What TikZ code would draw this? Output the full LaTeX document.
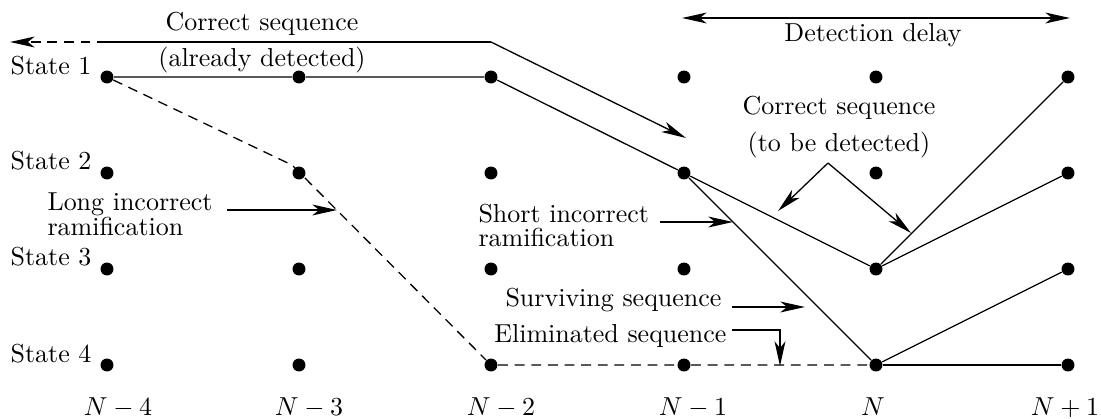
\documentclass[tikz,border=0pt]{standalone}
\usetikzlibrary{arrows.meta}
\begin{document}
\begin{tikzpicture}[x=0.385pt,y=-0.385pt,
  dot/.style={circle,fill,inner sep=0pt,minimum size=5pt},
  lbl/.style={inner sep=0pt},
  ln/.style={line width=0.5pt},
  dsh/.style={line width=0.5pt,dash pattern=on 3.8pt off 2.6pt},
  tip/.style={-{Stealth[length=9.5pt,width=4.2pt,inset=2.6pt]}},
  tips/.style={{Stealth[length=9.5pt,width=4.2pt,inset=2.6pt]}-{Stealth[length=9.5pt,width=4.2pt,inset=2.6pt]}},
]
\useasboundingbox (0,0) rectangle (1101,419);

% trellis dots
\foreach \x [count=\i] in {107,299,491,684,876,1068}
  \foreach \y [count=\j] in {77,173,269,365}
    \node[dot] (d\i\j) at (\x,\y) {};

% state labels
\node[lbl,anchor=base east] (st1) at (92,74) {State 1};
\node[lbl,anchor=base east] (st2) at (92,170) {State 2};
\node[lbl,anchor=base east] (st3) at (92,266) {State 3};
\node[lbl,anchor=base east] (st4) at (92,362) {State 4};

% time labels
\node[lbl,anchor=base] (t1) at (118,415) {$N-4$};
\node[lbl,anchor=base] (t2) at (309,415) {$N-3$};
\node[lbl,anchor=base] (t3) at (501,415) {$N-2$};
\node[lbl,anchor=base] (t4) at (693,415) {$N-1$};
\node[lbl,anchor=base] (t5) at (873,415) {$N$};
\node[lbl,anchor=base] (t6) at (1065,415) {$N+1$};

% paths
\draw[ln] (d11) -- (d21) -- (d31) -- (d42) -- (d53) -- (d61);
\draw[ln] (d53) -- (d62);
\draw[ln] (d42) -- (d54) -- (d63);
\draw[ln] (d54) -- (d64);
\coordinate (bend) at (292,165);
\draw[dsh] (d11) -- (bend) -- (d34) -- (d44) -- (d54);

% correct sequence (already detected)
\coordinate (tc) at (491,42);
\coordinate (tl) at (107,42);
\coordinate (tend) at (10,42);
\coordinate (ta) at (686,138);
\draw[ln] (tl) -- (tc);
\draw[ln,tip] (tc) -- (ta);
\draw[dsh,tip] (tl) -- (tend);
\node[lbl,anchor=base] (cs1) at (262,30) {Correct sequence};
\node[lbl,anchor=base] (ad) at (262,66) {(already detected)};

% detection delay
\coordinate (ddl) at (682,18);
\coordinate (ddr) at (1070,18);
\draw[ln,tips] (ddl) -- (ddr);
\node[lbl,anchor=base] (dd) at (873,41) {Detection delay};

% correct sequence (to be detected)
\node[lbl,anchor=base] (cs2) at (839,114) {Correct sequence};
\node[lbl,anchor=base] (tbd) at (839,151) {(to be detected)};
\coordinate (apex) at (828,163);
\coordinate (tbl) at (778,211);
\coordinate (tbr) at (911,233);
\draw[ln,tip] (apex) -- (tbl);
\draw[ln,tip] (apex) -- (tbr);

% long incorrect ramification
\node[lbl,anchor=base west] (li1) at (47,210) {Long incorrect};
\node[lbl,anchor=base west] (li2) at (47,235) {ramification};
\coordinate (lis) at (227,210);
\coordinate (lit) at (337,210);
\draw[ln,tip] (lis) -- (lit);

% short incorrect ramification
\node[lbl,anchor=base west] (si1) at (478,222) {Short incorrect};
\node[lbl,anchor=base west] (si2) at (478,246) {ramification};
\coordinate (sis) at (660,222);
\coordinate (sit) at (733,222);
\draw[ln,tip] (sis) -- (sit);

% surviving sequence
\node[lbl,anchor=base east] (sv) at (722,306) {Surviving sequence};
\coordinate (svs) at (732,307);
\coordinate (svt) at (805,307);
\draw[ln,tip] (svs) -- (svt);

% eliminated sequence
\node[lbl,anchor=base east] (el) at (727,342) {Eliminated sequence};
\coordinate (els) at (732,330);
\coordinate (elc) at (780,330);
\coordinate (elt) at (780,366);
\draw[ln,tip] (els) -- (elc) -- (elt);
\end{tikzpicture}
\end{document}
